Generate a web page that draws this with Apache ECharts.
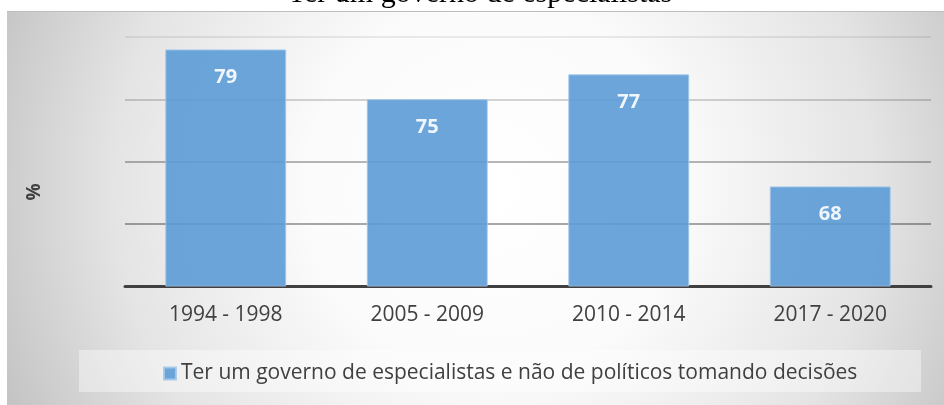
<!DOCTYPE html>
<html>
<head>
<meta charset="utf-8">
<script src="https://cdn.jsdelivr.net/npm/echarts@6/dist/echarts.min.js"></script>
<style>
    html, body { margin: 0; padding: 0; background: #ffffff; }
    #chart { width: 944px; height: 405px; }
</style>
</head>
<body>
<div id="chart"></div>
<script>
// periodos e valores (%)
var categories = ['1994 - 1998', '2005 - 2009', '2010 - 2014', '2017 - 2020'];
var values = [79, 75, 77, 68];
var seriesName = 'Ter um governo de especialistas e não de políticos tomando decisões';
var chartTitle = 'Ter um governo de especialistas';
var yName = '%';

var chart = echarts.init(document.getElementById('chart'));

var option = {
    animation: false,
    textStyle: { fontFamily: 'Open Sans' },
    graphic: [
        {
            // fundo cinza com degradê
            type: 'rect',
            z: -10,
            shape: { x: 7, y: 11, width: 937, height: 394 },
            style: {
                fill: {
                    type: 'radial', x: 494, y: 188, r: 530, global: true,
                    colorStops: [
                        { offset: 0, color: '#ffffff' },
                        { offset: 0.35, color: '#fbfbfb' },
                        { offset: 0.72, color: '#e4e4e4' },
                        { offset: 1, color: '#c4c4c4' }
                    ]
                }
            }
        },
        {
            type: 'line',
            z: -9,
            shape: { x1: 7, y1: 11.5, x2: 944, y2: 11.5 },
            style: { stroke: '#bdbdbd', lineWidth: 1 }
        },
        {
            // caixa da legenda
            type: 'rect',
            z: -5,
            shape: { x: 79, y: 350, width: 842, height: 42 },
            style: { fill: 'rgba(255,255,255,0.4)' }
        },
        {
            type: 'text',
            z: 100,
            x: 480,
            y: -6,
            style: {
                text: chartTitle,
                font: '30px "Liberation Serif"',
                fill: '#000000',
                textAlign: 'center',
                textVerticalAlign: 'middle'
            }
        },
        {
            // rótulo do eixo y
            type: 'text',
            z: 100,
            x: 35,
            y: 192,
            rotation: Math.PI / 2,
            style: {
                text: yName,
                font: 'bold 19px "Open Sans"',
                fill: '#404040',
                textAlign: 'center',
                textVerticalAlign: 'middle'
            }
        }
    ],
    grid: { left: 125, right: 13, top: 37, bottom: 119 },
    legend: {
        left: 158,
        top: 358,
        icon: 'rect',
        itemWidth: 12,
        itemHeight: 12,
        itemGap: 6,
        textStyle: { fontSize: 21, color: '#404040', fontFamily: 'Open Sans' },
        data: [seriesName]
    },
    xAxis: {
        type: 'category',
        data: categories,
        axisTick: { show: false },
        axisLine: { lineStyle: { color: '#404040', width: 3 } },
        axisLabel: { fontSize: 21, color: '#404040', margin: 19 }
    },
    yAxis: {
        type: 'value',
        min: 60,
        max: 80,
        interval: 5,
        axisLabel: { show: false },
        axisTick: { show: false },
        axisLine: { show: false },
        splitLine: {
            lineStyle: {
                width: 1.5,
                color: ['rgba(0,0,0,0.5)', 'rgba(0,0,0,0.45)', 'rgba(0,0,0,0.38)', 'rgba(0,0,0,0.22)', 'rgba(0,0,0,0.1)']
            }
        }
    },
    series: [
        {
            name: seriesName,
            type: 'bar',
            data: values,
            barCategoryGap: '40%',
            itemStyle: {
                color: '#5b9bd5',
                opacity: 0.9,
                borderColor: '#a3c7ea',
                borderWidth: 1
            },
            label: {
                show: true,
                position: 'insideTop',
                distance: 18,
                color: '#ffffff',
                fontSize: 20,
                fontWeight: 'bold',
                fontFamily: 'Open Sans'
            }
        }
    ]
};

chart.setOption(option);
</script>
</body>
</html>
